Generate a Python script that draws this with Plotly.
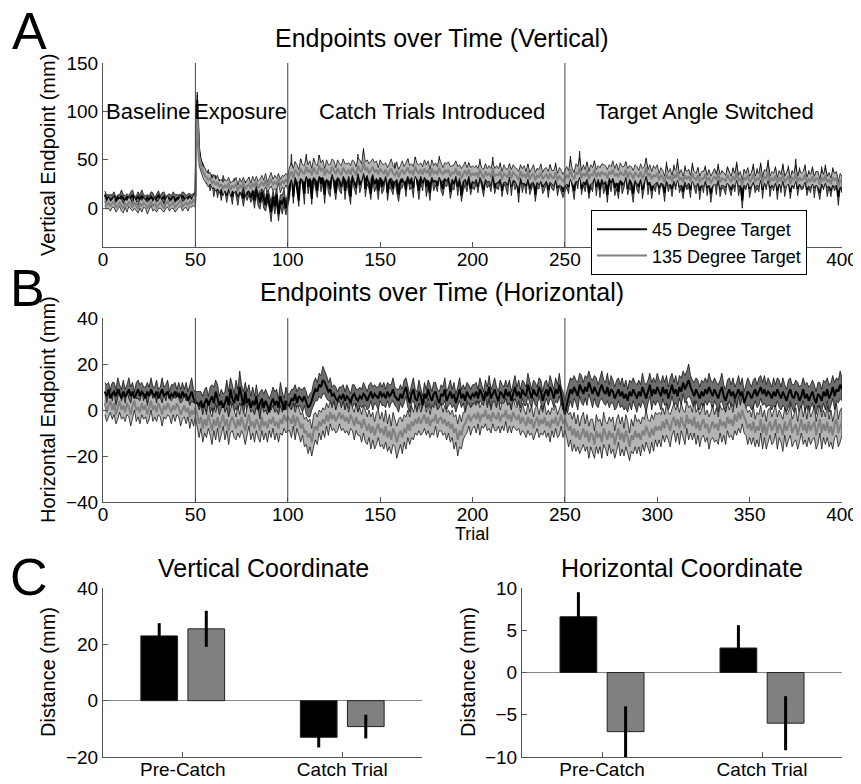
import plotly.graph_objects as go

# ---------------- data ----------------
trials = list(range(1, 401))

# Panel A (vertical endpoint, mm): mean per trial
v45_mean = [
    14, 9, 11, 8, 10, 12, 7, 11, 9, 13, 10, 8, 12, 9, 11, 14, 8, 10, 12, 9,
    13, 10, 8, 11, 9, 12, 10, 7, 11, 13, 9, 10, 12, 8, 11, 10, 9, 12, 8, 10,
    11, 9, 13, 10, 8, 11, 12, 9, 11, 13,
    112, 60, 45, 40, 36, 30, 33, 24, 30, 20, 28, 18, 25, 14, 26, 22, 13, 24, 21, 12,
    25, 20, 12, 22, 17, 10, 21, 14, 23, 11, 18, 8, 20, 12, 6, 17, 9, 3, 15, 7,
    -4, 12, 2, 14, -6, 8, 4, 11, 0, 9,
    20, 45, 12, 38, 25, 8, 42, 30, 15, 48, 22, 35, 10, 40, 28, 18, 44, 25, 32, 14,
    38, 26, 20, 42, 30, 16, 35, 28, 22, 40, 18, 33, 26, 12, 36, 29, 21, 45, 24, 31,
    50, 20, 34, 27, 15, 38, 25, 30, 18, 36,
    22, 28, 40, 16, 32, 26, 20, 38, 24, 14, 30, 27, 35, 19, 42, 25, 30, 21, 46, 28,
    18, 34, 26, 40, 22, 29, 16, 37, 27, 31, 23, 44, 26, 20, 33, 28, 36, 17, 30, 25,
    39, 22, 34, 13, 28, 32, 24, 38, 20, 30,
    26, 35, 22, 41, 28, 19, 36, 27, 32, 24, 43, 21, 30, 26, 38, 18, 33, 28, 24, 40,
    22, 35, 27, 30, 16, 37, 25, 32, 23, 38, 20, 29, 34, 14, 31, 26, 36, 22, 28, 33,
    19, 35, 27, 24, 38, 21, 30, 26, 17, 25,
    30, 22, 44, 26, 18, 35, 28, 48, 20, 32, 24, 38, 16, 30, 27, 42, 22, 34, 19, 36,
    25, 29, 14, 33, 26, 38, 21, 30, 17, 35, 24, 28, 40, 20, 31, 25, 15, 34, 27, 22,
    37, 19, 29, 45, 24, 32, 18, 30, 26, 35,
    21, 33, 27, 16, 38, 24, 30, 20, 36, 26, 42, 22, 29, 17, 34, 25, 31, 19, 40, 27,
    23, 35, 18, 30, 26, 37, 21, 32, 15, 28, 34, 24, 39, 20, 30, 26, 22, 36, 28, 19,
    33, 25, 41, 23, 29, 8, 31, 26, 35, 20,
    28, 37, 22, 31, 25, 40, 19, 33, 27, 43, 21, 30, 26, 36, 18, 32, 24, 39, 22, 29,
    35, 17, 31, 26, 41, 20, 33, 25, 28, 38, 19, 30, 24, 36, 21, 32, 27, 16, 34, 25,
    37, 22, 29, 18, 33, 26, 30, 12, 27, 24,
]
v135_mean = [
    8, 3, 6, 2, 5, 7, 1, 4, 6, 3, 0, 5, 2, 7, 4, 1, 6, 3, -1, 5,
    2, 6, 4, 0, 3, 7, 2, 5, 1, 4, 6, 3, 0, 5, 7, 2, 4, 6, 1, 3,
    5, 8, 2, 4, 6, 3, 7, 5, 9, 6,
    108, 52, 44, 38, 35, 32, 29, 31, 26, 28, 24, 27, 22, 25, 20, 24, 21, 26, 19, 23,
    22, 25, 18, 24, 21, 27, 19, 23, 25, 20, 26, 22, 28, 21, 24, 27, 23, 29, 22, 26,
    30, 24, 27, 25, 31, 23, 28, 26, 30, 27,
    34, 38, 31, 40, 36, 33, 41, 37, 35, 43, 37, 40, 34, 42, 38, 35, 44, 39, 41, 34,
    40, 37, 36, 43, 39, 35, 41, 38, 34, 42, 38, 36, 40, 35, 42, 38, 34, 44, 39, 37,
    48, 39, 42, 36, 39, 43, 37, 40, 35, 41,
    38, 36, 40, 33, 38, 41, 36, 34, 39, 32, 37, 40, 35, 38, 42, 36, 39, 34, 43, 38,
    36, 40, 35, 41, 37, 39, 33, 41, 36, 38, 35, 42, 37, 35, 39, 37, 40, 33, 37, 36,
    41, 34, 38, 31, 36, 39, 34, 40, 33, 36,
    34, 37, 32, 40, 35, 31, 38, 34, 36, 32, 41, 33, 35, 34, 38, 30, 36, 34, 32, 39,
    31, 37, 35, 33, 29, 38, 33, 35, 31, 38, 30, 34, 36, 29, 34, 32, 37, 30, 33, 35,
    30, 36, 32, 31, 37, 29, 33, 31, 28, 31,
    34, 31, 40, 33, 30, 37, 35, 42, 31, 36, 33, 39, 30, 35, 34, 40, 32, 37, 33, 38,
    35, 36, 31, 38, 35, 40, 33, 36, 32, 38, 35, 34, 40, 31, 37, 35, 30, 37, 34, 32,
    38, 31, 35, 42, 33, 36, 30, 34, 33, 36,
    29, 34, 32, 27, 36, 30, 33, 28, 35, 31, 38, 29, 32, 27, 34, 30, 33, 28, 36, 31,
    29, 34, 27, 31, 30, 35, 28, 32, 26, 30, 33, 29, 36, 27, 31, 30, 28, 34, 31, 27,
    33, 29, 37, 28, 31, 24, 32, 29, 34, 27,
    30, 35, 27, 31, 29, 37, 26, 33, 30, 38, 27, 31, 29, 34, 26, 32, 28, 36, 27, 30,
    33, 25, 31, 29, 36, 27, 32, 29, 30, 35, 26, 30, 28, 33, 27, 31, 30, 24, 32, 28,
    34, 27, 30, 25, 32, 29, 31, 22, 29, 27,
]
# Panel A: half-width of the shaded band (standard error)
v45_se = [
    4, 5, 3, 6, 4, 5, 4, 3, 5, 6, 4, 5, 3, 4, 6, 5, 4, 3, 5, 4, 6, 4, 5, 3, 4,
    5, 6, 4, 3, 5, 4, 6, 5, 4, 3, 5, 4, 5, 6, 4, 3, 5, 4, 6, 5, 4, 3, 5, 4, 5,
    8, 7, 5, 7, 6, 5, 7, 6, 5, 8, 6, 7, 5, 6, 8, 5, 7, 6, 5, 8, 6, 7, 9, 6, 5,
    8, 7, 6, 9, 5, 7, 8, 6, 10, 7, 5, 9, 6, 8, 7, 10, 6, 8, 9, 7, 6, 10, 8, 7, 6,
    9, 11, 7, 10, 8, 6, 9, 7, 11, 8, 7, 9, 6, 10, 8, 7, 11, 8, 6, 9, 7, 10, 8, 6, 9,
    7, 8, 10, 7, 6, 9, 7, 10, 8, 6, 9, 7, 11, 8, 7, 12, 8, 9, 7, 6, 10, 8, 7, 9, 8,
    7, 9, 6, 8, 10, 7, 6, 9, 8, 7, 10, 6, 8, 7, 9, 6, 8, 10, 7, 6, 9, 7, 8, 6, 10,
    7, 8, 6, 9, 7, 6, 10, 8, 7, 9, 6, 8, 7, 10, 6, 8, 9, 7, 6, 10, 8, 7, 9, 6, 8,
    7, 9, 6, 10, 8, 7, 9, 6, 8, 7, 10, 6, 8, 7, 9, 6, 8, 7, 10, 6, 9, 7, 8, 6, 10,
    7, 9, 6, 8, 7, 6, 9, 8, 7, 10, 6, 8, 7, 9, 6, 8, 10, 7, 6, 9, 8, 7, 9, 6, 8,
    8, 7, 10, 6, 9, 7, 8, 11, 6, 8, 7, 9, 6, 8, 10, 7, 9, 6, 8, 7, 10, 6, 8, 7, 9,
    6, 8, 10, 7, 6, 9, 7, 8, 6, 10, 7, 9, 6, 8, 7, 6, 9, 8, 7, 10, 6, 8, 7, 9, 6,
    7, 8, 6, 9, 10, 7, 6, 8, 9, 7, 9, 6, 8, 7, 10, 6, 9, 8, 7, 6, 8, 7, 9, 6, 10,
    7, 8, 6, 9, 8, 6, 10, 7, 8, 9, 6, 8, 7, 9, 6, 9, 8, 7, 10, 6, 8, 9, 7, 6, 9,
    7, 9, 6, 10, 8, 7, 9, 6, 8, 7, 9, 6, 8, 7, 9, 6, 8, 7, 10, 6, 9, 7, 8, 6, 10,
    7, 9, 6, 8, 7, 6, 9, 8, 7, 10, 6, 8, 7, 9, 6, 8, 10, 7, 6, 9, 8, 7, 9, 6, 8,
]
v135_se = [
    5, 4, 6, 5, 4, 6, 5, 5, 4, 6, 5, 4, 6, 5, 5, 4, 6, 5, 4, 5, 6, 5, 4, 6, 5,
    4, 5, 6, 5, 4, 6, 5, 4, 5, 6, 5, 4, 6, 5, 5, 4, 6, 5, 4, 5, 6, 5, 4, 6, 5,
    9, 8, 7, 6, 7, 6, 7, 6, 5, 7, 6, 7, 6, 5, 7, 6, 7, 6, 7, 5, 6, 7, 6, 7, 6,
    5, 7, 6, 7, 6, 7, 6, 5, 7, 6, 7, 6, 7, 5, 6, 7, 6, 7, 6, 5, 7, 6, 7, 6, 7,
    9, 8, 10, 8, 9, 7, 10, 8, 9, 10, 8, 9, 7, 10, 8, 9, 11, 8, 9, 7, 10, 8, 9, 8, 10,
    7, 9, 8, 10, 9, 8, 10, 7, 9, 8, 10, 9, 8, 11, 9, 12, 9, 8, 10, 9, 8, 10, 9, 7, 9,
    8, 9, 7, 9, 8, 10, 8, 7, 9, 8, 7, 9, 8, 10, 9, 8, 7, 9, 10, 8, 9, 7, 8, 9, 8,
    10, 7, 9, 8, 9, 8, 10, 9, 7, 8, 9, 8, 10, 7, 9, 8, 9, 7, 10, 8, 9, 8, 7, 9, 8,
    8, 7, 9, 8, 7, 9, 8, 7, 8, 9, 7, 8, 9, 7, 8, 8, 9, 7, 8, 7, 9, 8, 7, 8, 9,
    7, 8, 9, 7, 8, 7, 8, 9, 8, 7, 8, 9, 7, 8, 7, 8, 9, 7, 8, 8, 7, 9, 8, 7, 8,
    9, 8, 10, 8, 7, 9, 8, 10, 8, 9, 7, 9, 8, 10, 8, 9, 8, 7, 9, 8, 10, 8, 9, 7, 8,
    9, 8, 10, 7, 9, 8, 9, 8, 10, 7, 8, 9, 8, 9, 7, 8, 10, 8, 9, 7, 9, 8, 10, 8, 9,
    7, 8, 7, 6, 8, 7, 8, 6, 7, 8, 9, 7, 8, 6, 7, 8, 7, 6, 8, 7, 7, 8, 6, 7, 8,
    7, 6, 8, 7, 7, 8, 6, 7, 8, 7, 7, 6, 8, 7, 6, 8, 7, 8, 6, 7, 5, 8, 7, 8, 6,
    7, 8, 6, 7, 7, 8, 6, 7, 8, 9, 6, 7, 7, 8, 6, 7, 7, 8, 6, 7, 8, 6, 7, 7, 8,
    6, 7, 7, 8, 8, 6, 7, 7, 8, 6, 7, 8, 6, 7, 7, 8, 6, 7, 6, 8, 7, 7, 5, 7, 6,
]

# Panel B (horizontal endpoint, mm)
h45_mean = [
    8, 6, 9, 5, 7, 8, 6, 9, 7, 5, 8, 6, 7, 9, 6, 8, 5, 7, 9, 6,
    8, 7, 5, 8, 6, 9, 7, 6, 8, 5, 7, 9, 6, 7, 8, 5, 7, 6, 8, 6,
    7, 5, 8, 6, 7, 4, 6, 8, 5, 3,
    3, 2, 4, 1, 3, 5, 2, 4, 6, 3, 8, 5, 2, 4, 1, 3, 6, 2, 9, 5,
    3, 7, 4, 10, 6, 2, 8, 3, 5, 1, 4, 2, 6, 0, 3, 5, 1, 4, 2, -1,
    3, 5, 2, 4, 1, 6, 3, 0, 4, 2,
    2, 5, 4, 7, 3, 6, 5, 4, 6, 3, 1, 2, 4, 7, 9, 8, 11, 10, 13, 12,
    10, 8, 9, 6, 7, 5, 4, 6, 5, 7, 4, 6, 5, 3, 6, 7, 5, 4, 6, 5,
    7, 6, 4, 6, 8, 5, 7, 6, 5, 8,
    6, 7, 5, 8, 6, 7, 9, 6, 5, 4, 7, 5, 8, 10, 6, 3, 7, 9, 5, 4,
    8, 6, 2, 7, 5, 9, 6, 4, 7, 8, 5, 3, 7, 6, 9, 4, 6, 8, 5, 7,
    3, 6, 9, 5, 7, 4, 8, 6, 5, 7,
    6, 8, 5, 9, 7, 4, 8, 6, 10, 5, 7, 9, 6, 4, 8, 7, 5, 9, 6, 8,
    4, 7, 10, 6, 8, 5, 9, 7, 6, 11, 8, 5, 9, 7, 6, 10, 8, 4, 7, 9,
    6, 10, 8, 5, 9, 7, 11, 6, 3, -2,
    2, 6, 9, 7, 10, 8, 6, 11, 9, 7, 10, 8, 12, 9, 7, 10, 8, 6, 9, 11,
    8, 7, 10, 6, 9, 8, 5, 7, 9, 6, 8, 5, 7, 4, 8, 6, 9, 7, 5, 8,
    6, 10, 7, 5, 8, 11, 6, 9, 7, 10,
    8, 6, 10, 7, 9, 5, 8, 11, 7, 9, 6, 10, 8, 12, 9, 11, 13, 10, 8, 6,
    9, 7, 5, 8, 6, 9, 7, 10, 8, 6, 9, 7, 5, 8, 10, 6, 4, 7, 9, 6,
    8, 5, 7, 9, 6, 8, 3, 6, 8, 7,
    5, 7, 9, 6, 8, 10, 7, 9, 6, 8, 7, 5, 8, 6, 9, 7, 5, 8, 6, 4,
    7, 9, 6, 5, 8, 7, 4, 6, 9, 5, 7, 4, 6, 8, 5, 3, 7, 6, 4, 8,
    6, 9, 5, 7, 10, 6, 9, 8, 11, 9,
]
h135_mean = [
    3, -1, 2, 4, 0, 3, -2, 1, 4, 0, 2, -1, 3, 1, -2, 2, 4, 0, 1, -1,
    3, 0, 2, -2, 1, 4, 0, 2, -1, 3, 1, -2, 2, 0, 3, 1, -1, 2, 0, 3,
    1, -2, 0, 2, -1, 1, -3, 0, -2, 1,
    -2, -6, -3, -8, -4, -7, -2, -6, -9, -4, -7, -3, -8, -5, -2, -7, -4, -9, -5, -3,
    -6, -8, -4, -7, -3, -6, -9, -5, -2, -7, -5, -8, -4, -6, -9, -3, -7, -5, -8, -4,
    -6, -3, -7, -5, -8, -4, -6, -2, -5, -3,
    -4, -6, -2, -7, -3, -5, -8, -6, -10, -9, -12, -10, -14, -9, -7, -9, -5, -7, -4, -6,
    -2, -5, -1, -4, -2, -5, -3, -1, -4, -2, -5, -3, -6, -2, -4, -7, -3, -6, -5, -8,
    -4, -7, -9, -6, -10, -7, -11, -8, -6, -10,
    -8, -11, -7, -12, -9, -13, -8, -10, -14, -11, -9, -12, -8, -10, -6, -9, -5, -7, -4, -6,
    -3, -6, -4, -2, -6, -3, -7, -4, -5, -2, -6, -4, -3, -6, -4, -7, -5, -8, -6, -10,
    -8, -13, -9, -11, -7, -6, -4, -2, -5, -3,
    -2, -4, -1, -5, -2, -3, 0, -4, -2, -5, -1, -3, -4, -1, -5, -2, -3, 0, -4, -2,
    -5, -1, -3, -4, -2, -6, -3, -5, -7, -3, -6, -4, -8, -5, -3, -7, -4, -6, -3, -7,
    -5, -8, -4, -6, -3, -7, -5, -2, -6, -4,
    -6, -9, -7, -11, -8, -12, -9, -13, -10, -8, -12, -9, -14, -10, -11, -15, -9, -12, -10, -14,
    -8, -11, -13, -9, -12, -10, -15, -11, -8, -13, -10, -14, -9, -12, -16, -11, -13, -9, -12, -10,
    -13, -9, -11, -7, -10, -12, -8, -11, -7, -9,
    -7, -9, -5, -8, -4, -7, -9, -5, -3, -7, -4, -8, -3, -6, -8, -2, -6, -4, -7, -3,
    -8, -5, -9, -6, -4, -8, -6, -10, -7, -5, -8, -6, -9, -4, -7, -5, -8, -3, -6, -4,
    -7, -2, -5, -1, -4, 0, -3, -5, -8, -6,
    -9, -5, -10, -7, -9, -4, -10, -6, -11, -7, -5, -9, -7, -4, -10, -6, -8, -11, -5, -9,
    -7, -4, -10, -8, -6, -11, -7, -4, -9, -6, -10, -5, -9, -7, -5, -11, -8, -4, -10, -6,
    -9, -5, -10, -7, -11, -6, -4, -10, -7, -5,
]
h45_se = [
    4, 5, 3, 4, 5, 4, 3, 5, 4, 4, 5, 3, 4, 5, 4, 4, 3, 5, 4, 5, 4, 3, 5, 4, 4,
    5, 3, 4, 5, 4, 3, 5, 4, 4, 5, 3, 4, 5, 4, 3, 5, 4, 4, 3, 5, 4, 5, 6, 4, 5,
    5, 6, 4, 5, 6, 5, 4, 6, 5, 7, 5, 6, 4, 5, 6, 5, 7, 6, 5, 6, 4, 6, 5, 7, 5,
    6, 4, 5, 6, 5, 6, 4, 5, 6, 5, 4, 6, 5, 5, 6, 4, 5, 6, 5, 4, 6, 5, 5, 6, 5,
    5, 4, 5, 4, 5, 4, 4, 5, 4, 5, 4, 5, 4, 5, 5, 4, 5, 5, 6, 5, 5, 4, 5, 4, 4,
    5, 4, 4, 5, 4, 4, 5, 4, 4, 5, 4, 4, 5, 4, 4, 5, 4, 4, 5, 4, 5, 4, 4, 5, 4,
    4, 5, 4, 4, 5, 4, 5, 4, 4, 5, 4, 4, 5, 4, 5, 4, 4, 5, 4, 4, 5, 4, 4, 5, 4,
    4, 5, 4, 5, 4, 4, 5, 4, 4, 5, 4, 4, 5, 4, 5, 4, 4, 5, 4, 4, 5, 4, 5, 4, 4,
    5, 4, 4, 5, 4, 4, 5, 4, 5, 4, 4, 5, 4, 4, 5, 4, 5, 4, 4, 5, 4, 4, 5, 4, 5,
    4, 4, 5, 4, 5, 5, 4, 4, 5, 4, 4, 5, 4, 5, 4, 4, 5, 4, 4, 5, 4, 5, 4, 5, 6,
    6, 5, 5, 6, 5, 5, 6, 5, 6, 5, 5, 6, 5, 5, 6, 5, 6, 5, 5, 6, 5, 5, 6, 5, 6,
    5, 5, 6, 5, 5, 6, 5, 6, 5, 5, 6, 5, 5, 6, 5, 5, 6, 5, 6, 5, 5, 6, 5, 5, 6,
    5, 6, 5, 5, 6, 5, 6, 5, 5, 6, 5, 5, 6, 5, 6, 6, 7, 5, 5, 6, 5, 6, 5, 5, 6,
    5, 5, 6, 5, 6, 5, 5, 6, 5, 6, 5, 5, 6, 5, 5, 6, 5, 5, 6, 5, 6, 5, 5, 6, 5,
    5, 6, 5, 5, 6, 5, 5, 6, 5, 6, 5, 5, 6, 5, 5, 6, 5, 6, 5, 5, 6, 5, 5, 6, 5,
    5, 6, 5, 5, 6, 5, 6, 5, 5, 6, 5, 5, 6, 5, 5, 6, 5, 6, 5, 5, 6, 5, 5, 6, 5,
]
h135_se = [
    5, 4, 5, 5, 4, 5, 4, 5, 5, 4, 5, 4, 5, 4, 5, 5, 4, 5, 4, 5, 5, 4, 5, 4, 5,
    4, 5, 5, 4, 5, 4, 5, 5, 4, 5, 4, 5, 4, 5, 5, 4, 5, 4, 5, 5, 4, 5, 4, 5, 4,
    5, 6, 5, 6, 6, 5, 6, 5, 6, 5, 6, 5, 6, 6, 5, 6, 5, 6, 5, 6, 6, 5, 6, 5, 6,
    5, 6, 6, 5, 6, 5, 6, 5, 6, 5, 6, 6, 5, 6, 5, 6, 5, 6, 5, 6, 6, 5, 6, 5, 6,
    5, 6, 5, 6, 5, 6, 6, 5, 6, 6, 7, 6, 6, 7, 6, 6, 5, 6, 5, 6, 5, 6, 5, 5, 6,
    5, 6, 5, 5, 6, 5, 6, 5, 6, 5, 6, 6, 5, 6, 6, 6, 7, 6, 6, 7, 6, 6, 7, 6, 6,
    7, 6, 7, 6, 7, 6, 7, 6, 7, 7, 6, 7, 6, 7, 6, 6, 7, 6, 6, 5, 6, 5, 6, 6, 5,
    6, 5, 6, 6, 5, 6, 5, 6, 5, 6, 6, 5, 6, 6, 7, 6, 7, 7, 6, 6, 5, 6, 5, 6, 5,
    5, 6, 5, 6, 5, 5, 6, 5, 6, 5, 5, 6, 5, 6, 5, 5, 6, 5, 6, 5, 5, 6, 5, 5, 6,
    5, 6, 5, 5, 6, 5, 6, 5, 6, 5, 5, 6, 5, 6, 5, 5, 6, 5, 6, 5, 5, 6, 5, 6, 5,
    6, 7, 6, 7, 7, 6, 7, 6, 7, 7, 6, 7, 7, 6, 7, 6, 7, 7, 6, 7, 7, 6, 7, 6, 7,
    7, 6, 7, 6, 7, 7, 6, 7, 7, 6, 7, 6, 7, 7, 6, 7, 6, 7, 7, 6, 7, 6, 7, 6, 7,
    6, 7, 6, 6, 7, 6, 7, 6, 6, 7, 6, 7, 6, 6, 7, 6, 7, 6, 6, 7, 7, 6, 7, 6, 7,
    6, 6, 7, 6, 7, 6, 7, 6, 6, 7, 6, 7, 6, 6, 7, 6, 7, 6, 7, 6, 6, 7, 6, 7, 6,
    6, 7, 6, 6, 7, 6, 7, 6, 6, 7, 6, 6, 7, 6, 7, 6, 6, 7, 6, 7, 6, 7, 6, 6, 7,
    6, 7, 6, 6, 7, 6, 7, 6, 6, 7, 6, 7, 6, 7, 6, 6, 7, 6, 7, 6, 6, 7, 6, 7, 6,
]

phase_lines = [50, 100, 250]
phase_labels = ["Baseline", "Exposure", "Catch Trials Introduced", "Target Angle Switched"]
phase_label_x = [24.6, 74.4, 178, 326]
trial_ticks = [0, 50, 100, 150, 200, 250, 300, 350, 400]

# Panel C (bar summaries)
categories = ["Pre-Catch", "Catch Trial"]
vert_45 = [23.0, -13.0]
vert_45_err = [4.5, 3.6]
vert_135 = [25.5, -9.2]
vert_135_err = [6.4, 4.2]
horiz_45 = [6.6, 2.9]
horiz_45_err = [2.9, 2.7]
horiz_135 = [-7.0, -6.0]
horiz_135_err = [3.0, 3.2]

series_names = ["45 Degree Target", "135 Degree Target"]

# ---------------- figure ----------------
# the page body adds an 8px offset; positions below are given in window pixels
OFF = 8
W, H = 861, 784
FONT = "Liberation Sans, Arial, Helvetica, sans-serif"
AX = "#555555"


def px(x):
    return (x - OFF) / W


def py(y):
    return 1 - (y - OFF) / H


fig = go.Figure()


def band(mean, se, xa, ya, fill):
    n = min(len(trials), len(mean), len(se))
    xs = trials[:n]
    up = [m + s for m, s in zip(mean[:n], se[:n])]
    lo = [m - s for m, s in zip(mean[:n], se[:n])]
    fig.add_trace(go.Scatter(
        x=xs + xs[::-1], y=up + lo[::-1], fill="toself", fillcolor=fill,
        line=dict(color="black", width=0.7), mode="lines", hoverinfo="skip",
        showlegend=False, xaxis=xa, yaxis=ya))


def mean_line(mean, xa, ya, color, name, show):
    fig.add_trace(go.Scatter(
        x=trials[:len(mean)], y=mean, mode="lines", line=dict(color=color, width=2),
        name=name, showlegend=show, legendgroup=name, xaxis=xa, yaxis=ya))


# Panel A
band(v45_mean, v45_se, "x", "y", "#6e6e6e")
mean_line(v45_mean, "x", "y", "black", series_names[0], True)
band(v135_mean, v135_se, "x", "y", "#b4b4b4")
mean_line(v135_mean, "x", "y", "#808080", series_names[1], True)
# Panel B
band(h45_mean, h45_se, "x2", "y2", "#6e6e6e")
band(h135_mean, h135_se, "x2", "y2", "#b4b4b4")
mean_line(h45_mean, "x2", "y2", "black", series_names[0], False)
mean_line(h135_mean, "x2", "y2", "#808080", series_names[1], False)

# Panel C bars
bar_cols = ["#000000", "#808080"]
for vals, errs, col, nm, xa, ya in [
    (vert_45, vert_45_err, bar_cols[0], series_names[0], "x3", "y3"),
    (vert_135, vert_135_err, bar_cols[1], series_names[1], "x3", "y3"),
    (horiz_45, horiz_45_err, bar_cols[0], series_names[0], "x4", "y4"),
    (horiz_135, horiz_135_err, bar_cols[1], series_names[1], "x4", "y4"),
]:
    fig.add_trace(go.Bar(
        x=categories, y=vals, marker=dict(color=col, line=dict(color="#222222", width=1)),
        error_y=dict(type="data", array=errs, color="black", thickness=3, width=0),
        name=nm, showlegend=False, xaxis=xa, yaxis=ya))

tickfont = dict(family=FONT, size=19, color="black")
common = dict(showline=True, linecolor=AX, linewidth=1, ticks="inside", ticklen=5,
              tickcolor=AX, showgrid=False, zeroline=False, tickfont=tickfont,
              automargin=False, ticklabeloverflow="allow")
xcommon = dict(common, ticklabelstandoff=-5)

xdom_ts = [px(103), px(842)]
fig.update_layout(
    width=W, height=H, margin=dict(l=0, r=0, t=0, b=0, pad=0, autoexpand=False),
    paper_bgcolor="white", plot_bgcolor="white",
    font=dict(family=FONT, size=18, color="black"),
    barmode="group", bargap=0.41, bargroupgap=0.22,
    xaxis=dict(domain=xdom_ts, anchor="y", range=[0, 400], tickvals=trial_ticks,
               ticktext=[str(t) if t not in (300, 350) else "" for t in trial_ticks],
               **xcommon),
    yaxis=dict(domain=[py(247), py(63)], anchor="x", range=[-40, 150],
               tickvals=[0, 50, 100, 150], **common),
    xaxis2=dict(domain=xdom_ts, anchor="y2", range=[0, 400], tickvals=trial_ticks,
                **xcommon),
    yaxis2=dict(domain=[py(502), py(318)], anchor="x2", range=[-40, 40],
                tickvals=[-40, -20, 0, 20, 40], **common),
    xaxis3=dict(domain=[px(103), px(422)], anchor="y3", range=[-0.5, 1.5],
                type="category", **xcommon),
    yaxis3=dict(domain=[py(757), py(588)], anchor="x3", range=[-20, 40],
                tickvals=[-20, 0, 20, 40],
                **{**common, "zeroline": True}, zerolinecolor="#888888", zerolinewidth=1),
    xaxis4=dict(domain=[px(522), px(842)], anchor="y4", range=[-0.5, 1.5],
                type="category", **xcommon),
    yaxis4=dict(domain=[py(757), py(588)], anchor="x4", range=[-10, 10],
                tickvals=[-10, -5, 0, 5, 10],
                **{**common, "zeroline": True}, zerolinecolor="#888888", zerolinewidth=1),
    legend=dict(x=px(591), y=py(210), xanchor="left", yanchor="top",
                bgcolor="white", bordercolor="black", borderwidth=1,
                font=dict(family=FONT, size=18), tracegroupgap=0,
                itemwidth=50),
)

# phase separator lines
for xa, ya in [("x", "y"), ("x2", "y2")]:
    for v in phase_lines:
        fig.add_shape(type="line", xref=xa, yref=f"{ya} domain", x0=v, x1=v, y0=0, y1=1,
                      line=dict(color="#444444", width=1))

# phase labels
for lab, xv in zip(phase_labels, phase_label_x):
    fig.add_annotation(x=xv, y=100, xref="x", yref="y", text=lab, showarrow=False,
                       font=dict(family=FONT, size=22, color="black"),
                       xanchor="center", yanchor="middle")

# titles
titles = [
    ("Endpoints over Time (Vertical)", 442, 38),
    ("Endpoints over Time (Horizontal)", 442, 292),
    ("Vertical Coordinate", 263, 568),
    ("Horizontal Coordinate", 682, 568),
]
for t, xx, yy in titles:
    fig.add_annotation(x=px(xx), y=py(yy), xref="paper", yref="paper", text=t,
                       showarrow=False, font=dict(family=FONT, size=25, color="black"),
                       xanchor="center", yanchor="middle")

# axis titles
ytitles = [
    ("Vertical Endpoint (mm)", 48, 155),
    ("Horizontal Endpoint (mm)", 48, 410),
    ("Distance (mm)", 48, 672),
    ("Distance (mm)", 468, 672),
]
for t, xx, yy in ytitles:
    fig.add_annotation(x=px(xx), y=py(yy), xref="paper", yref="paper", text=t,
                       textangle=-90, showarrow=False,
                       font=dict(family=FONT, size=20, color="black"),
                       xanchor="center", yanchor="middle")
fig.add_annotation(x=px(472), y=py(534), xref="paper", yref="paper", text="Trial",
                   showarrow=False, font=dict(family=FONT, size=18, color="black"),
                   xanchor="center", yanchor="middle")

# panel letters (compact text box so the top letter stays inside the figure)
for t, xx, yy in [("A", 29, 31), ("B", 27, 288), ("C", 29, 577)]:
    fig.add_annotation(x=px(xx), y=py(yy), xref="paper", yref="paper", text=t,
                       showarrow=False, font=dict(family=FONT, size=52, color="black"),
                       height=44, valign="middle",
                       xanchor="center", yanchor="middle")

fig.write_html("out.html")
